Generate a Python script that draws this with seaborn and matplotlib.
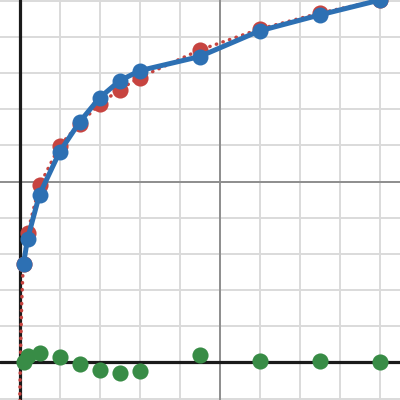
import numpy as np
import pandas as pd
import seaborn as sns
import matplotlib
matplotlib.use("Agg")
import matplotlib.pyplot as plt

# data (x grid = 2, y grid = 1)
x_vals = [0.2, 0.4, 1, 2, 3, 4, 5, 6, 9, 12, 15, 18]
blue_y = [2.72, 3.41, 4.64, 5.81, 6.64, 7.31, 7.78, 8.06, 8.45, 9.16, 9.60, 10.01]
red_y = [2.72, 3.58, 4.89, 5.98, 6.60, 7.13, 7.54, 7.87, 8.63, 9.21, 9.65, 10.01]
green_y = [0.0, 0.18, 0.26, 0.15, -0.04, -0.21, -0.29, -0.23, 0.21, 0.04, 0.04, 0.0]

# the dotted model curve, extra points near x = 0
curve_x = [0.01, 0.06, 0.11, 0.16] + x_vals
curve_y = [-1.1, 0.45, 1.65, 2.35] + red_y

RED = "#c74440"
BLUE = "#2d70b3"
GREEN = "#388c46"

df = pd.DataFrame({"x": x_vals, "blue": blue_y, "red": red_y, "green": green_y})
curve = pd.DataFrame({"x": curve_x, "y": curve_y})

sns.set_style("white")
fig = plt.figure(figsize=(4, 4), dpi=100)
ax = fig.add_axes([0, 0, 1, 1])

# grid
ax.set_xticks(np.arange(-0, 20, 2))
ax.set_yticks(np.arange(-1, 11, 1))
ax.grid(True, color="#dadada", linewidth=1.4)
ax.axvline(10, color="#8e8e8e", linewidth=1.4, zorder=0.8)
ax.axhline(5, color="#8e8e8e", linewidth=1.4, zorder=0.8)
ax.axvline(0, color="#1a1a1a", linewidth=2.3, zorder=1)
ax.axhline(0, color="#1a1a1a", linewidth=2.3, zorder=1)

# red dotted curve + points
sns.lineplot(data=curve, x="x", y="y", ax=ax, color=RED, linewidth=2.5,
             linestyle=(0, (0.1, 1.9)), dash_capstyle="round", sort=False, zorder=2)
sns.scatterplot(data=df, x="x", y="red", ax=ax, color=RED, s=135, linewidth=0, zorder=3)

# blue data
sns.lineplot(data=df, x="x", y="blue", ax=ax, color=BLUE, linewidth=3.6,
             marker="o", markersize=11.5, markeredgewidth=0, zorder=4)

# green residuals
sns.scatterplot(data=df, x="x", y="green", ax=ax, color=GREEN, s=135, linewidth=0, zorder=5)

ax.set_xlim(-0.975, 19.025)
ax.set_ylim(-1.036, 10.014)
ax.tick_params(length=0, labelbottom=False, labelleft=False)
ax.set_xlabel("")
ax.set_ylabel("")
for s in ax.spines.values():
    s.set_visible(False)

fig.savefig("out.png", dpi=100)
